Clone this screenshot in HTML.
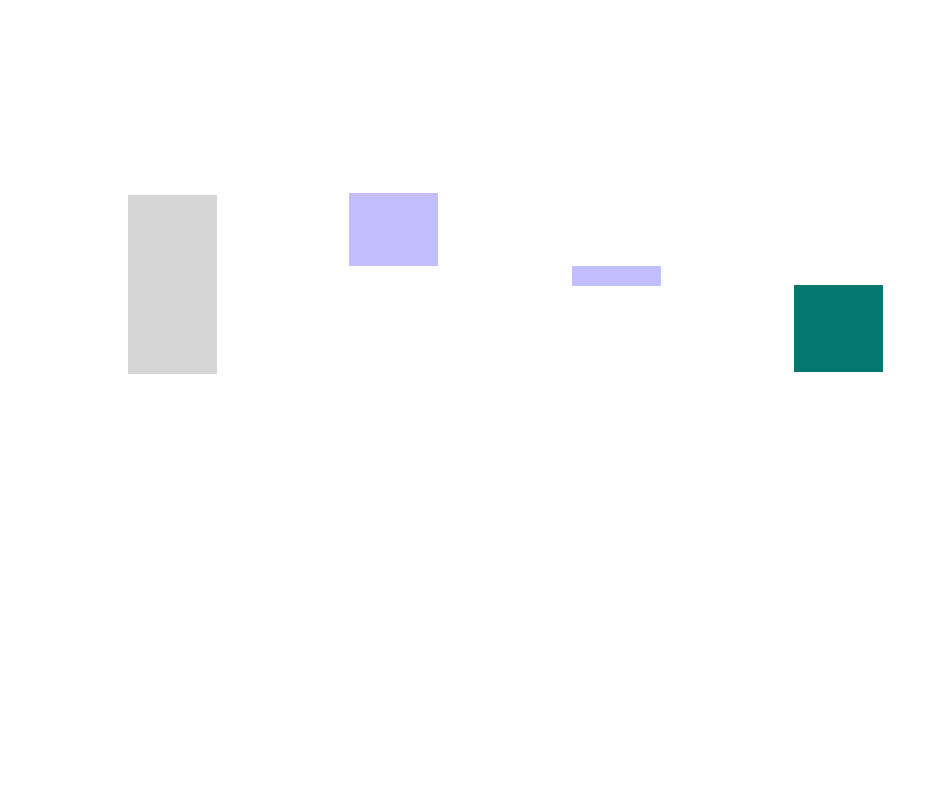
<!DOCTYPE html>
<html><head><style>
html,body{margin:0;padding:0;background:#fff;width:940px;height:788px;overflow:hidden;position:relative}
div{position:absolute}
</style></head><body>
<div style="left:128px;top:195px;width:89px;height:179px;background:#d5d6d5"></div>
<div style="left:349px;top:193px;width:89px;height:73px;background:#c3befe"></div>
<div style="left:572px;top:266px;width:89px;height:20px;background:#c3befe"></div>
<div style="left:794px;top:285px;width:89px;height:87px;background:#047870"></div>
</body></html>
